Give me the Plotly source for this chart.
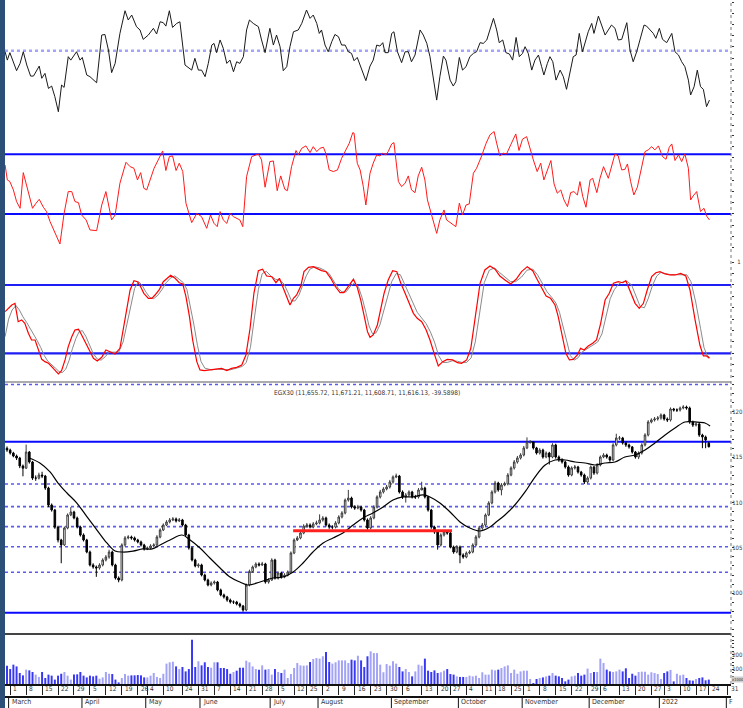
import plotly.graph_objects as go

# ---------------- data ----------------
opens = [11600,11580,11547,11514,11492,11404,11380,11558,11448,11270,
11270,11304,11293,11161,10973,10918,10730,10587,10532,10719,
10863,10896,10830,10730,10642,10587,10454,10311,10289,10278,
10311,10366,10399,10454,10311,10167,10145,10532,10609,10620,
10609,10587,10565,10532,10488,10499,10521,10532,10620,10697,
10752,10786,10808,10819,10797,10808,10752,10642,10499,10366,
10300,10311,10200,10145,10090,10112,10123,10035,9980,9958,
9924,9902,9902,9880,9858,9814,10090,10240,10289,10322,
10311,10322,10123,10145,10366,10167,10222,10178,10200,10233,
10443,10587,10609,10664,10741,10752,10730,10764,10775,10808,
10830,10752,10730,10730,10775,10841,10885,11028,11050,10951,
10940,10951,10918,10808,10719,10830,10951,11062,11117,11150,
11172,11227,11282,11293,11117,11062,11084,11117,11062,11062,
11139,11161,11062,10918,10730,10675,10532,10642,10675,10664,
10510,10454,10510,10421,10399,10443,10454,10532,10620,10719,
10752,10863,10995,11117,11216,11139,11194,11205,11304,11382,
11448,11492,11525,11603,11669,11669,11603,11547,11580,11503,
11547,11503,11636,11503,11470,11448,11393,11304,11382,11393,
11337,11304,11227,11271,11393,11326,11415,11503,11525,11503,
11470,11636,11713,11713,11658,11636,11614,11558,11503,11547,
11636,11746,11890,11912,11923,11934,11967,11923,11912,12033,
12022,12022,12044,12055,12044,11890,11856,11867,11746,11724,
11656]

highs = [11620,11595,11560,11530,11505,11420,11640,11570,11460,11300,
11330,11340,11305,11175,10990,10930,10745,10600,10735,10880,
10950,10910,10845,10745,10660,10600,10470,10330,10305,10330,
10385,10420,10480,10470,10325,10185,10550,10630,10640,10635,
10625,10600,10580,10545,10515,10540,10550,10640,10715,10770,
10805,10830,10840,10835,10830,10820,10765,10655,10515,10380,
10330,10325,10215,10160,10130,10140,10135,10050,9995,9970,
9940,9920,9915,9895,9870,10105,10260,10305,10340,10340,
10345,10335,10165,10385,10380,10240,10235,10220,10250,10460,
10605,10630,10685,10760,10775,10770,10785,10800,10870,10850,
10845,10770,10750,10795,10860,10905,11045,11140,11065,10970,
10975,10965,10930,10825,10850,10970,11080,11140,11170,11195,
11250,11300,11320,11305,11135,11105,11135,11130,11085,11160,
11230,11175,11075,10930,10745,10690,10660,10690,10690,10680,
10525,10530,10525,10440,10460,10475,10550,10640,10740,10775,
10880,11015,11135,11240,11230,11215,11230,11325,11400,11470,
11515,11545,11625,11720,11690,11680,11615,11600,11595,11565,
11560,11655,11650,11520,11490,11460,11410,11400,11415,11405,
11350,11320,11290,11410,11405,11435,11520,11545,11540,11515,
11655,11760,11735,11725,11675,11650,11625,11570,11565,11655,
11765,11910,11930,11945,11955,11985,11980,11940,12050,12045,
12040,12060,12075,12070,12060,11905,11885,11880,11760,11740,
11671]

lows = [11560,11530,11500,11470,11380,11290,11370,11430,11250,11240,
11255,11270,11140,10950,10900,10710,10560,10330,10520,10705,
10850,10815,10715,10625,10570,10440,10295,10270,10180,10260,
10295,10350,10380,10295,10150,10120,10130,10515,10595,10590,
10570,10550,10515,10470,10475,10485,10505,10520,10605,10685,
10740,10770,10795,10780,10785,10735,10625,10480,10350,10285,
10280,10185,10130,10075,10075,10095,10020,9965,9940,9905,
9885,9880,9865,9840,9795,9800,10075,10225,10275,10295,
10300,10105,10105,10135,10150,10150,10160,10165,10185,10220,
10430,10575,10595,10650,10725,10715,10715,10750,10760,10790,
10735,10710,10705,10715,10760,10825,10870,11010,10935,10920,
10925,10900,10790,10700,10705,10815,10935,11045,11100,11135,
11155,11210,11270,11100,11040,11000,11065,11045,11040,11045,
11140,11045,10900,10710,10655,10480,10515,10625,10645,10495,
10435,10440,10330,10380,10385,10430,10440,10515,10605,10700,
10735,10850,10980,11100,11120,11080,11180,11190,11290,11365,
11430,11475,11510,11590,11650,11585,11530,11530,11485,11490,
11420,11490,11485,11450,11430,11375,11285,11290,11365,11320,
11285,11205,11210,11255,11305,11310,11400,11490,11485,11450,
11455,11620,11690,11640,11615,11595,11540,11485,11480,11530,
11620,11730,11875,11895,11905,11915,11905,11890,11895,12005,
12000,12005,12030,12025,11870,11835,11840,11725,11600,11600,
11609]

closes = [11580,11547,11514,11492,11404,11380,11558,11448,11270,11270,
11304,11293,11161,10973,10918,10730,10587,10532,10719,10863,
10896,10830,10730,10642,10587,10454,10311,10289,10278,10311,
10366,10399,10454,10311,10167,10145,10532,10609,10620,10609,
10587,10565,10532,10488,10499,10521,10532,10620,10697,10752,
10786,10808,10819,10797,10808,10752,10642,10499,10366,10300,
10311,10200,10145,10090,10112,10123,10035,9980,9958,9924,
9902,9902,9880,9858,9814,10090,10240,10289,10322,10311,
10322,10123,10145,10366,10167,10222,10178,10200,10233,10443,
10587,10609,10664,10741,10752,10730,10764,10775,10808,10830,
10752,10730,10730,10775,10841,10885,11028,11050,10951,10940,
10951,10918,10808,10719,10830,10951,11062,11117,11150,11172,
11227,11282,11293,11117,11062,11084,11117,11062,11062,11139,
11161,11062,10918,10730,10675,10532,10642,10675,10664,10510,
10454,10510,10421,10399,10443,10454,10532,10620,10719,10752,
10863,10995,11117,11216,11139,11194,11205,11304,11382,11448,
11492,11525,11603,11669,11669,11603,11547,11580,11503,11547,
11503,11636,11503,11470,11448,11393,11304,11382,11393,11337,
11304,11227,11271,11393,11326,11415,11503,11525,11503,11470,
11636,11713,11713,11658,11636,11614,11558,11503,11547,11636,
11746,11890,11912,11923,11934,11967,11923,11912,12033,12022,
12022,12044,12055,12044,11890,11856,11867,11746,11724,11691,
11616]

volume = [125,102,132,120,75,59,98,93,82,64,
48,82,41,64,57,30,57,70,82,57,
30,64,66,82,57,45,57,52,57,36,
45,82,70,68,30,11,41,68,57,59,
59,61,59,45,45,57,75,48,41,70,
139,148,152,120,102,116,86,102,302,116,
155,127,148,116,111,148,148,109,109,102,
70,82,91,111,111,159,148,120,102,98,
127,98,102,64,102,82,75,98,41,68,
109,143,127,125,127,150,171,177,173,189,
218,150,139,148,161,161,161,143,166,161,
193,161,116,189,223,211,211,132,80,136,
125,155,139,116,86,102,82,52,86,132,
125,173,91,82,93,75,80,91,102,68,
64,52,48,48,48,57,52,57,41,80,
64,64,98,93,98,109,120,127,75,98,
70,86,91,91,34,7,34,41,45,52,
57,75,57,52,41,18,30,52,57,75,
57,64,105,75,82,82,173,143,98,86,
82,86,98,86,107,41,70,57,82,84,
84,64,80,75,68,34,75,86,96,18,
70,59,64,41,25,23,34,41,45,25,30]

ma_x = [6.9,10.3,13.5,16.0,18.8,21.9,25.1,28.2,31.3,33.9,
36.4,39.5,42.6,45.5,48.0,51.1,54.9,57.4,60.5,63.6,
66.8,69.9,73.0,75.5,79.3,83.4,86.5,89.7,92.8,95.9,
99.1,102.2,105.3,108.5,111.6,114.7,117.9,121.0,124.1,127.3,
130.4,132.6,135.7,138.9,142.0,145.1,148.3,151.4,153.0,156.1,
159.2,162.4,165.5,168.7,171.8,174.9,178.1,181.2,184.3,187.5,
190.6,193.7,196.9,200.0,203.1,206.3,209.4,212.5,215.7,218.8,220.4]
ma_val = [11492,11437,11338,11216,11106,10995,10841,10697,10554,10465,
10454,10465,10488,10488,10532,10587,10642,10587,10499,10388,
10278,10178,10123,10090,10123,10167,10178,10234,10333,10454,
10554,10609,10664,10752,10830,10885,10951,11028,11062,11062,
11084,11062,10995,10896,10786,10719,10686,10730,10775,10863,
10973,11117,11282,11415,11470,11470,11448,11437,11415,11437,
11448,11503,11525,11580,11658,11746,11823,11890,11890,11879,11845]

support_start, support_end, support_level = 89.7, 139.5, 10689
price_solid_levels = [11672, 9784]
price_dotted_levels = [12304, 11205, 10955, 10734, 10513, 10230]
stoch_levels = [20, 80]
rsi_levels = [30, 70]
osc_mid_level = [50]

osc_points = list(zip(
[-0.6,0.1,0.9,2.0,3.0,4.1,5.1,6.2,7.4,8.3,9.3,10.1,10.9,11.9,13.0,14.0,15.0,16.1,17.1,17.9,
19.2,20.0,21.8,22.9,23.6,25.0,26.0,28.1,29.7,30.7,31.8,32.8,33.9,35.4,37.0,38.0,39.1,40.6,41.7,42.7,
44.3,45.9,46.9,48.0,49.0,49.8,50.9,51.9,53.2,54.2,55.8,57.4,57.9,58.9,60.0,61.0,62.1,63.1,64.2,64.9,
65.7,66.8,67.8,68.9,69.9,71.0,72.0,73.0,74.1,75.1,76.0,77.2,78.8,79.8,80.9,82.4,83.5,84.5,85.6,86.6,
87.7,88.7,89.8,91.3,92.4,93.9,95.0,96.0,97.1,97.9,98.6,99.7,100.7,101.8,102.8,103.9,104.9,106.0,107.0,108.0,
108.8,109.8,110.7,111.7,112.5,113.8,
114.8,115.9,116.9,117.8,118.5,119.5,120.6,121.3,122.4,123.7,124.8,125.8,126.8,127.9,129.5,130.5,131.6,132.6,133.6,134.7,
135.7,136.8,137.6,138.9,139.9,140.7,141.8,142.8,143.9,145.1,146.2,147.2,148.3,149.3,150.4,151.6,152.5,153.5,154.3,155.4,
156.4,157.5,158.5,159.6,160.6,161.6,162.4,163.4,164.5,165.5,166.6,167.6,168.3,169.4,170.2,171.1,172.1,173.4,174.4,175.4,
176.5,177.5,178.4,179.4,180.4,181.2,182.2,183.3,184.0,185.4,186.4,187.5,188.5,189.5,190.6,191.6,192.7,194.3,195.3,196.3,
197.4,198.6,199.7,200.5,201.6,202.6,203.4,204.5,205.5,206.8,208.4,209.4,210.5,211.5,212.5,213.6,214.3,215.4,216.4,217.4,
218.3,219.3,220.2],
[49.3,43.7,48.7,42.6,36.6,41.5,49.3,40.4,33.0,33.0,37.0,39.7,31.5,34.8,24.7,26.3,19.2,9.1,27.0,25.4,
46.0,43.7,49.3,43.7,45.5,33.7,32.6,28.5,60.5,60.9,50.4,35.3,41.5,61.6,76.8,70.6,73.9,66.1,63.9,57.6,
60.5,65.0,61.2,69.4,68.8,66.5,76.8,65.6,68.3,69.4,40.4,38.2,37.0,44.9,37.0,37.0,32.6,41.5,53.8,54.9,
48.7,57.2,51.6,41.5,43.7,35.9,42.6,41.5,46.0,63.9,70.6,68.3,66.1,57.2,48.7,65.0,53.8,60.5,52.7,36.6,
39.3,52.7,62.7,63.9,68.3,77.3,71.7,73.9,68.3,61.6,63.9,53.8,49.3,56.0,60.9,59.4,53.8,53.8,49.3,48.2,
43.3,45.5,40.4,33.7,29.9,39.7,
43.7,53.8,53.1,55.4,48.7,48.7,61.6,62.7,49.3,42.0,49.3,49.3,42.6,47.1,63.9,60.5,54.9,46.0,32.6,16.9,
32.6,46.4,43.7,30.3,26.3,29.2,45.5,37.0,39.3,46.0,48.2,49.3,55.4,54.9,57.2,65.6,71.7,63.9,55.4,57.2,
48.7,47.8,43.7,58.9,46.0,48.2,52.7,48.2,37.0,43.7,47.1,39.3,33.7,41.5,46.0,42.6,30.3,37.0,32.6,24.1,
37.0,46.0,47.1,61.6,49.3,55.4,62.7,68.3,61.6,73.2,67.2,60.5,63.9,67.2,65.0,57.2,57.6,68.8,50.4,42.6,
49.3,59.4,67.2,66.5,63.9,61.6,58.3,65.0,57.6,55.4,61.6,49.3,47.1,42.6,39.3,30.3,20.3,25.9,37.0,25.9,
24.1,12.5,16.9]))

rsi_points = [(-0.6,62.8),(0.1,52.8),(0.9,51.7),(2.0,46.1),(3.0,38.3),(4.1,33.8),(5.1,57.7),(6.2,48.3),(7.2,39.4),(8.0,33.8),
(9.1,37.2),(10.1,39.8),(11.4,34.5),(12.4,31.6),(13.5,24.9),(14.5,19.7),(15.6,14.8),(16.6,9.9),(17.9,30.4),(19.2,45.0),
(20.3,45.0),(21.3,38.3),(22.4,37.6),(23.4,29.3),(24.8,26.0),(26.0,19.3),(28.1,18.8),(29.7,36.0),(31.0,45.0),(32.8,26.0),
(33.9,29.3),(35.4,50.6),(37.3,64.6),(38.6,61.7),(39.8,60.6),(40.9,52.8),(41.9,57.7),(42.9,47.2),(43.8,46.1),(44.8,52.8),
(46.1,60.6),(47.4,66.2),(48.8,72.2),(49.8,59.1),(50.9,68.4),(51.9,68.9),(53.0,59.1),(54.0,64.0),(55.1,58.4),(56.1,37.2),
(57.9,24.2),(59.5,30.4),(61.0,28.2),(62.6,20.4),(63.8,29.3),(64.9,23.7),(65.9,21.5),(66.8,31.6),(67.8,26.0),(68.9,23.7),
(69.9,30.4),(71.0,28.2),(72.2,27.1),(73.0,26.0),(73.9,21.5),(75.1,55.0),(76.7,68.4),(78.8,70.2),(79.8,66.2),(80.9,47.9),
(82.4,65.1),(83.5,65.5),(84.7,45.6),(85.8,55.5),(87.1,46.5),(87.9,45.6),(89.2,61.7),(90.6,72.5),(91.3,69.6),(92.4,74.0),
(93.7,75.6),(95.0,71.1),(96.0,75.1),(97.1,71.8),(98.1,74.0),(99.2,74.7),(100.0,70.2),(101.0,59.5),(102.3,58.4),(103.6,59.5),
(104.9,67.3),(106.3,72.9),(107.3,77.4),(108.4,84.5),(108.8,84.1),(109.8,64.0),(110.7,59.5),(111.7,48.3),(112.5,36.0),(113.8,57.3),
(114.8,64.0),(115.9,69.6),(116.9,68.9),(117.8,70.7),(118.8,69.6),(119.5,71.8),(120.6,76.9),(121.3,77.8),(122.7,51.7),(123.7,48.3),
(124.8,50.6),(125.8,55.5),(126.8,46.1),(127.9,44.3),(128.9,55.5),(130.0,61.3),(131.0,52.8),(131.8,39.4),(132.8,31.6),(133.9,23.7),
(134.7,17.0),(135.7,26.0),(137.0,32.7),(137.8,26.0),(139.4,23.7),(140.7,21.5),(141.8,37.2),(142.8,29.3),(143.9,36.0),(144.9,36.7),
(146.2,57.3),(147.2,60.6),(148.8,68.9),(150.2,77.4),(151.4,83.0),(152.7,85.2),(153.5,77.4),(154.5,68.9),(155.6,70.7),(156.6,70.2),
(157.9,76.3),(159.5,83.6),(160.5,72.5),(161.6,80.1),(162.9,81.8),(163.7,75.1),(165.0,66.2),(166.2,58.4),(167.3,64.0),(168.3,52.8),
(169.4,59.5),(170.5,65.8),(171.5,50.1),(172.5,43.9),(173.6,46.1),(174.6,39.4),(175.7,34.9),(176.7,44.3),(177.7,45.0),(178.8,42.7),
(179.6,51.7),(180.5,41.6),(181.5,34.5),(182.8,52.8),(183.6,53.9),(184.9,44.3),(185.9,53.9),(187.0,61.7),(188.5,53.9),(189.5,61.7),
(190.6,70.2),(191.6,68.9),(192.7,59.5),(193.7,59.9),(194.5,63.5),(195.5,51.7),(196.5,42.7),(197.6,47.9),(198.6,58.4),(200.0,71.8),
(201.0,72.9),(202.1,75.1),(203.1,72.9),(204.2,75.6),(205.5,68.4),(206.6,66.6),(207.6,74.7),(208.4,76.9),(209.4,65.8),(210.5,69.6),
(211.5,65.1),(212.5,70.2),(213.6,60.6),(214.3,39.4),(215.1,42.1),(216.2,45.0),(217.4,31.6),(218.5,33.8),(219.3,28.7),(220.2,26.0)]

stoch_k_points = [(-0.6,56.6),(0.4,59.5),(1.5,62.4),(2.5,63.9),(3.5,47.8),(4.6,49.3),(5.6,46.3),(6.7,37.6),(7.7,31.7),(8.8,31.7),
(9.8,24.4),(10.9,14.7),(11.9,12.7),(13.0,11.2),(14.0,8.3),(15.0,4.8),(16.1,1.9),(17.1,4.8),(18.2,14.2),(19.2,25.9),
(20.3,34.6),(21.3,40.5),(22.4,41.1),(23.4,36.1),(24.5,30.2),(25.5,23.5),(27.1,15.6),(28.3,13.3),(29.7,16.5),(31.0,22.9),
(32.3,21.5),(33.9,19.4),(35.4,24.4),(37.0,49.3),(38.6,75.6),(39.8,83.8),(40.9,82.9),(41.9,78.5),(42.9,72.7),(44.3,68.3),
(45.4,68.3),(46.4,71.2),(47.8,76.2),(49.0,82.9),(50.1,85.9),(51.3,88.5),(52.7,85.9),(54.0,82.0),(55.1,80.9),(56.1,69.8),
(57.2,52.2),(58.2,31.7),(59.5,12.7),(60.5,5.4),(61.8,4.8),(63.6,5.4),(65.7,6.0),(67.3,6.8),(68.9,4.8),(70.4,6.8),
(72.0,7.7),(73.6,9.8),(74.9,18.5),(76.2,42.0),(77.4,72.7),(78.8,92.6),(80.1,93.8),(81.4,87.9),(83.0,87.3),(84.3,82.0),
(85.4,85.9),(86.6,77.1),(87.9,68.3),(88.7,62.4),(89.8,68.3),(90.8,71.2),(92.1,79.1),(93.1,91.7),(94.5,95.5),(96.0,96.1),
(97.1,94.6),(98.6,92.6),(100.0,91.7),(101.5,85.9),(102.8,79.1),(104.4,73.3),(105.6,73.3),(107.0,78.5),(108.6,85.0),(109.8,78.0),
(110.9,66.8),(111.9,53.7),(113.0,39.0),(113.8,34.1),(114.8,36.1),(116.1,44.9),(117.1,58.1),(118.2,72.7),(119.5,84.4),(120.9,92.6),
(122.2,91.7),(123.4,82.0),(124.8,72.7),(126.1,64.5),(127.4,55.1),(128.6,50.7),(130.0,47.8),(131.3,41.1),(132.6,31.7),(133.9,20.0),
(135.2,8.9),(136.6,12.7),(138.0,14.7),(139.7,14.2),(141.2,11.8),(142.5,11.2),(144.1,14.2),(145.4,24.4),(146.7,49.3),(148.3,81.5),
(149.8,93.2),(151.4,96.7),(153.0,93.8),(154.5,87.9),(156.1,84.4),(157.9,80.9),(159.6,85.0),(161.3,91.7),(163.1,96.1),(164.8,92.6),
(166.0,85.9),(167.3,78.5),(169.0,70.3),(170.4,68.3),(171.8,62.4),(172.8,52.2),(173.9,37.6),(175.2,20.0),(176.3,14.2),(177.5,14.7),
(178.8,18.5),(179.8,24.4),(180.9,22.9),(182.2,26.4),(183.6,28.8),(184.8,31.7),(186.1,46.3),(187.5,66.8),(188.8,72.7),(190.1,81.5),
(191.6,82.9),(193.0,82.0),(194.0,83.8),(195.3,75.6),(196.9,63.9),(198.2,59.5),(199.5,63.9),(200.7,75.6),(202.1,87.3),(203.4,90.8),
(204.7,91.7),(206.3,89.7),(207.8,88.8),(209.4,88.8),(211.2,90.2),(212.8,87.9),(214.1,75.6),(215.7,49.3),(217.2,27.3),(218.3,17.7),
(219.3,17.7),(220.2,15.6)]

stoch_d_points = [(-0.6,34.6),(0.5,50),(1.6,58),(2.8,62),(3.9,58),(5.0,52),(6.2,47),(7.3,42),(8.5,36),(9.5,31),
(10.6,25),(11.7,18),(12.8,13),(14.1,10),(15.2,7),(16.3,4),(17.3,3),(18.4,6),(19.5,14),(20.5,24),
(21.6,33),(22.6,39),(23.6,40),(24.7,35),(25.8,28),(27.0,20),(28.3,15),(29.5,14),(30.8,17),(32.0,21),
(33.5,21),(35.0,21),(36.4,30),(37.6,45),(38.8,62),(40.0,77),(41.2,83),(42.3,80),(43.5,74),(44.8,69),
(46.0,68),(47.3,71),(48.6,76),(49.9,82),(51.2,86),(52.6,88),(54.0,85),(55.3,82),(56.4,76),(57.5,62),
(58.6,45),(59.7,27),(60.8,13),(62.0,7),(64.0,5.5),(66.0,6),(68.0,6),(70.0,5.5),(72.0,7),(73.8,8.5),
(75.0,12),(76.3,25),(77.5,50),(78.8,76),(80.0,90),(81.3,92),(82.7,88),(84.2,85),(85.6,84),(86.8,81),
(88.0,74),(89.2,66),(90.3,66),(91.5,71),(92.6,79),(93.8,88),(95.0,94),(96.5,96),(98.0,95),(99.5,93),
(101.0,90),(102.4,84),(103.8,77),(105.0,74),(106.3,74),(107.7,79),(109.0,82),(110.2,78),(111.3,69),(112.5,56),
(113.5,44),(114.6,37),(115.7,38),(116.9,45),(118.0,57),(119.3,71),(120.6,83),(122.0,90),(123.3,89),(124.6,81),
(126.0,72),(127.3,63),(128.6,56),(130.0,51),(131.4,46),(132.7,39),(134.0,30),(135.3,18),(136.6,12),(138.0,12),
(139.7,13.5),(141.2,13),(142.6,12),(144.1,12),(145.5,16),(146.8,30),(148.2,56),(149.6,82),(151.2,93),(152.8,95),
(154.4,91),(156.0,87),(157.8,83),(159.5,83),(161.3,87),(163.0,93),(164.8,94),(166.3,89),(167.8,82),(169.3,74),
(170.8,69),(172.1,64),(173.2,56),(174.3,44),(175.5,30),(176.6,18),(177.8,14),(179.0,16),(180.2,21),(181.3,23),
(182.6,25),(184.0,28),(185.2,30),(186.5,37),(187.8,53),(189.1,68),(190.4,76),(191.8,81),(193.3,83),(194.5,83),
(195.8,80),(197.2,70),(198.5,61),(199.8,60),(201.0,68),(202.4,80),(203.7,88),(205.0,91),(206.6,90),(208.1,89),
(209.7,89),(211.5,89),(213.1,89),(214.4,83),(215.9,65),(217.4,42),(218.5,25),(219.5,18),(220.3,16.5)]

week_idx = [1,6,11,16,21,26,31,36,41,44,49,55,60,65,70,75,80,85,90,94,99,104,109,114,119,
            124,130,135,139,144,149,153,158,162,167,172,177,182,186,192,197,202,206,211,216,220,226]
day_labels = ["1","8","15","22","29","5","12","19","26","4","10","24","31","7","14","21","28","5","12","25",
              "2","9","16","23","30","6","13","20","27","4","11","18","25","1","8","15","22","29","6","13",
              "20","27","3","10","17","24","31"]
month_idx = [1,24,44,61,83,98,121,142,162,183,205,226]
month_labels = ["March","April","May","June","July","August","September","October","November","December","2022","F"]

price_tick_vals = [10000, 10500, 11000, 11500, 12000]
price_tick_text = ["100", "105", "110", "115", "120"]
vol_tick_vals = [100, 200]
vol_tick_text = ["100", "200"]
stoch_tick_vals = [100]
stoch_tick_text = ["1"]

title_text = "EGX30 (11,655.72, 11,671.21, 11,608.71, 11,616.13, -39.5898)"

# ---------------- figure ----------------
NARROW = "Liberation Sans Narrow, DejaVu Sans Condensed, Arial Narrow, sans-serif"
bars = list(range(len(closes)))
n = min(len(opens), len(highs), len(lows), len(closes))
vol_colors = ["#3838f2" if c < o else "#a2a2f6" for o, c in zip(opens, closes)]

fig = go.Figure()
fig.add_trace(go.Bar(x=bars[:len(volume)], y=volume, marker=dict(color=vol_colors[:len(volume)], line=dict(width=0)),
                     width=0.62, xaxis="x", yaxis="y"))
fig.add_trace(go.Candlestick(x=bars[:n], open=opens[:n], high=highs[:n], low=lows[:n], close=closes[:n],
                             xaxis="x", yaxis="y2", whiskerwidth=0,
                             increasing=dict(line=dict(color="#3a3a3a", width=1), fillcolor="white"),
                             decreasing=dict(line=dict(color="black", width=1), fillcolor="black")))
fig.add_trace(go.Scatter(x=ma_x, y=ma_val, mode="lines", line=dict(color="black", width=1.2, shape="spline"),
                         xaxis="x", yaxis="y2"))
fig.add_trace(go.Scatter(x=[support_start, support_end], y=[support_level, support_level], mode="lines",
                         line=dict(color="#ff2020", width=3), xaxis="x", yaxis="y2"))

dx, dv = zip(*stoch_d_points)
fig.add_trace(go.Scatter(x=dx, y=dv, mode="lines", line=dict(color="#8a8a8a", width=1), xaxis="x", yaxis="y3"))
kx, kv = zip(*stoch_k_points)
fig.add_trace(go.Scatter(x=kx, y=kv, mode="lines", line=dict(color="#ff0000", width=1.2), xaxis="x", yaxis="y3"))
rx, rv = zip(*rsi_points)
fig.add_trace(go.Scatter(x=rx, y=rv, mode="lines", line=dict(color="#ff1a1a", width=1), xaxis="x", yaxis="y4"))
ox, ov = zip(*osc_points)
fig.add_trace(go.Scatter(x=ox, y=ov, mode="lines", line=dict(color="#1a1a1a", width=1), xaxis="x", yaxis="y5"))

shapes = []
def hline(y, yref, color, width, dash="solid"):
    shapes.append(dict(type="line", xref="paper", x0=0, x1=1, yref=yref, y0=y, y1=y,
                       line=dict(color=color, width=width, dash=dash), layer="below"))

for lv in price_dotted_levels:
    hline(lv, "y2", "#5a5af2", 1.6, "dot")
for lv in price_solid_levels:
    hline(lv, "y2", "#0a0aff", 2)
for lv in stoch_levels:
    hline(lv, "y3", "#1e1ef5", 2.2)
for lv in rsi_levels:
    hline(lv, "y4", "#0a0aff", 2)
for lv in osc_mid_level:
    hline(lv, "y5", "#a4a4ff", 2.5, "dot")

# panel separators and axis rows
for yp, col, w in [(0.4415, "#909090", 1.5), (0.0731, "#444444", 2), (-0.019, "#111111", 2)]:
    shapes.append(dict(type="line", xref="paper", x0=0, x1=1, yref="paper", y0=yp, y1=yp,
                       line=dict(color=col, width=w)))
for mi in month_idx:
    shapes.append(dict(type="line", xref="x", x0=mi - 0.5, x1=mi - 0.5, yref="paper", y0=-0.019, y1=-0.036,
                       line=dict(color="#111111", width=1)))
# right axis (dotted)
shapes.append(dict(type="line", xref="paper", x0=1, x1=1, yref="paper", y0=0, y1=1,
                   line=dict(color="#777777", width=1, dash="dot")))
# left dark strip
shapes.append(dict(type="rect", xref="paper", x0=-0.0075, x1=0, yref="paper", y0=-0.036, y1=1,
                   fillcolor="#2c4f78", line=dict(width=0)))

annotations = [dict(text=title_text, xref="paper", yref="paper", x=0.4986, y=0.4254, showarrow=False,
                    font=dict(family=NARROW, size=6.5, color="#333333"), xanchor="center", yanchor="middle")]
for xi, lab in zip(week_idx, day_labels):
    annotations.append(dict(text=lab, xref="x", yref="paper", x=xi, y=0, yshift=-5, xshift=1,
                            xanchor="left", yanchor="middle", showarrow=False,
                            font=dict(family=NARROW, size=6.5, color="#333333")))
for xi, lab in zip(month_idx, month_labels):
    annotations.append(dict(text=lab, xref="x", yref="paper", x=xi - 0.5, y=0, yshift=-18, xshift=1,
                            xanchor="left", yanchor="middle", showarrow=False,
                            font=dict(family=NARROW, size=7, color="#333333")))
annotations.append(dict(text="x1000", xref="paper", yref="paper", x=1.0, y=0.0073, xanchor="left",
                        yanchor="middle", showarrow=False, bgcolor="#d0d0d0", borderpad=0,
                        font=dict(family=NARROW, size=4, color="#333333")))

tickfont = dict(family=NARROW, size=6, color="#333333")
common_y = dict(side="right", showgrid=False, zeroline=False, showline=False, automargin=False,
                ticks="outside", ticklen=2, tickcolor="#333333", tickfont=tickfont, fixedrange=True)

fig.update_layout(
    template="none",
    width=743, height=708,
    margin=dict(l=5, r=12, t=0, b=24),
    paper_bgcolor="white", plot_bgcolor="white",
    showlegend=False, hovermode=False,
    font=dict(family=NARROW, size=7, color="#333333"),
    xaxis=dict(range=[-0.627, 226.96], showgrid=False, zeroline=False, showline=True, linecolor="#111111",
               linewidth=2, ticks="outside", tickvals=week_idx, ticklen=9, tickcolor="#222222", tickwidth=1,
               showticklabels=False, rangeslider=dict(visible=False), anchor="y", automargin=False,
               fixedrange=True),
    yaxis=dict(domain=[0, 0.0731], range=[0, 341], tickvals=vol_tick_vals, ticktext=vol_tick_text,
               ticklabelstandoff=-3,
               minor=dict(dtick=25, ticks="outside", ticklen=2, tickcolor="#333333"), **common_y),
    yaxis2=dict(domain=[0.0731, 0.4415], range=[9549, 12331], tickvals=price_tick_vals, ticktext=price_tick_text,
                ticklabelstandoff=-3,
                minor=dict(dtick=100, ticks="outside", ticklen=2, tickcolor="#333333"), **common_y),
    yaxis3=dict(domain=[0.4415, 0.6228], range=[-5.2, 103.7], tickvals=stoch_tick_vals, ticktext=stoch_tick_text,
                ticklabelstandoff=2,
                minor=dict(dtick=10, ticks="outside", ticklen=2, tickcolor="#333333"), **common_y),
    yaxis4=dict(domain=[0.6228, 0.8129], range=[0.5, 87.6], tickvals=[], showticklabels=False,
                minor=dict(dtick=7.5, ticks="outside", ticklen=2, tickcolor="#333333"), **common_y),
    yaxis5=dict(domain=[0.8129, 1.0], range=[-1.8, 84], tickvals=[], showticklabels=False,
                minor=dict(dtick=7.5, ticks="outside", ticklen=2, tickcolor="#333333"), **common_y),
    shapes=shapes,
    annotations=annotations,
)

fig.write_html("out.html", config={"displayModeBar": False, "staticPlot": True},
               post_script="document.body.style.margin='0px';document.body.style.overflow='hidden';")
